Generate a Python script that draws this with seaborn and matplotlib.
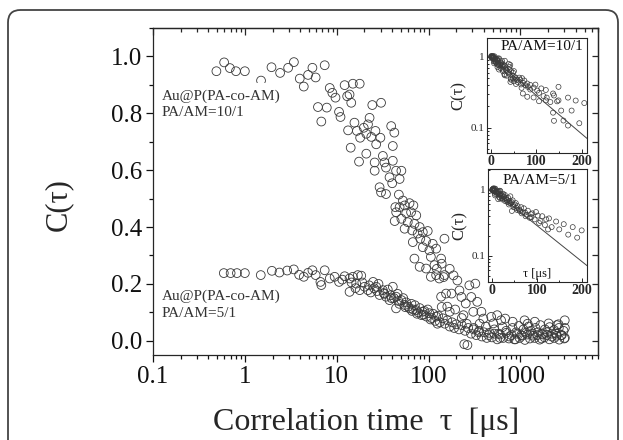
import numpy as np
import pandas as pd
import matplotlib.pyplot as plt
import seaborn as sns
from matplotlib.patches import FancyBboxPatch
from matplotlib.ticker import LogLocator, MultipleLocator, NullFormatter

# ---- data ----
# Au@P(PA-co-AM), PA/AM = 10/1
tau_10 = [0.49, 0.595, 0.687, 0.80, 1.0, 1.5, 1.95, 2.42, 2.96, 3.42,
          3.96, 4.38, 4.88, 5.44, 5.9, 6.25, 6.8, 7.4, 7.8, 8.4,
          8.96, 9.7, 10.6, 11.0, 12.2, 13.0, 13.3, 13.8, 14.2, 14.4,
          15.0, 15.6, 16.6, 17.5, 17.8, 18.0, 19.7, 21.0, 21.0, 21.9,
          22.8, 23.8, 24.4, 25.9, 25.9, 26.4, 26.9, 29.3, 29.9, 30.4,
          30.4, 31.8, 33.1, 34.4, 34.4, 37.6, 39.2, 40.2, 40.8, 40.8,
          42.4, 42.8, 43.5, 44.3, 44.4, 47.5, 48.4, 48.4, 50.6, 50.6,
          52.6, 54.9, 54.9, 57.1, 59.4, 62.1, 64.5, 66.3, 67.4, 68.4,
          70.2, 70.2, 73.5, 76.1, 80, 80, 81.3, 86.6, 86.6, 94,
          94, 98, 102, 106, 106, 111, 116, 121, 121, 123,
          131, 137, 137, 139, 139, 146, 149, 149, 155, 170,
          170, 178, 187, 206, 217, 228, 240, 254, 278, 292,
          307, 323, 339, 376, 395, 481, 506, 559, 616, 683,
          824, 1110, 1435, 2030, 2490, 3040, 310, 350, 420, 450,
          520, 580, 640, 700, 760, 820, 900, 960, 1020, 1080,
          1150, 1230, 1300, 1380, 1460, 1550, 1650, 1750, 1850, 1960,
          2080, 2200, 2330, 2470, 2620, 2780, 2950, 3050, 265, 360,
          600, 880, 1200, 1700, 2600, 3050, 160, 195, 230, 260]
c_10 = [0.948, 0.979, 0.959, 0.948, 0.948, 0.915, 0.962, 0.942, 0.960, 0.980,
        0.922, 0.894, 0.935, 0.960, 0.926, 0.822, 0.771, 0.969, 0.820, 0.889,
        0.872, 0.855, 0.805, 0.787, 0.899, 0.860, 0.740, 0.866, 0.679, 0.837,
        0.904, 0.767, 0.738, 0.630, 0.904, 0.714, 0.749, 0.658, 0.728, 0.761,
        0.784, 0.717, 0.829, 0.627, 0.598, 0.738, 0.691, 0.540, 0.714, 0.837,
        0.522, 0.650, 0.627, 0.609, 0.516, 0.575, 0.755, 0.554, 0.685, 0.633,
        0.732, 0.421, 0.470, 0.598, 0.452, 0.514, 0.569, 0.470, 0.598, 0.429,
        0.493, 0.476, 0.394, 0.449, 0.417, 0.484, 0.452, 0.388, 0.347, 0.476,
        0.411, 0.289, 0.441, 0.377, 0.400, 0.260, 0.359, 0.382, 0.329, 0.351,
        0.254, 0.386, 0.318, 0.295, 0.225, 0.341, 0.266, 0.324, 0.231, 0.253,
        0.219, 0.289, 0.155, 0.271, 0.119, 0.224, 0.359, 0.231, 0.166, 0.253,
        0.102, 0.166, 0.230, 0.212, 0.177, 0.154, 0.090, 0.131, 0.195, 0.154,
        0.102, 0.201, 0.137, 0.102, 0.078, 0.084, 0.061, 0.090, 0.072, 0.078,
        0.067, 0.072, 0.067, 0.061, 0.055, 0.072, 0.045, 0.030, 0.050, 0.020,
        0.040, 0.025, 0.048, 0.035, 0.015, 0.045, 0.030, 0.052, 0.020, 0.040,
        0.028, 0.050, 0.035, 0.018, 0.045, 0.030, 0.055, 0.022, 0.040, 0.030,
        0.048, 0.015, 0.038, 0.025, 0.045, 0.020, 0.035, 0.010, -0.015, 0.060,
        0.010, 0.005, 0.060, 0.008, 0.058, 0.045, 0.120, 0.110, 0.080, 0.060]

# Au@P(PA-co-AM), PA/AM = 5/1
tau_5 = [0.59, 0.70, 0.82, 1.0, 1.49, 1.97, 2.38, 2.89, 3.41, 3.9,
         4.38, 4.88, 5.44, 5.9, 6.65, 6.8, 7.4, 8.4, 9.5, 10.6,
         11.5, 12.2, 13.8, 13.8, 14.5, 15.0, 16.0, 16.3, 17.0, 17.8,
         18.5, 19.0, 20.1, 21.9, 22.5, 23.5, 24.9, 26.9, 27.5, 28.5,
         29.3, 31.8, 33.0, 34.4, 36.0, 37.6, 38.5, 40.8, 42.0, 44.3,
         44.3, 46.0, 48.0, 50.6, 53.0, 54.9, 57.0, 60.0, 62.1, 65.0,
         68.0, 71.0, 73.5, 77.0, 80.0, 84.0, 86.6, 90.0, 95.0, 98.0,
         102, 108, 112, 118, 121, 127, 133, 143, 150, 160,
         170, 180, 190, 200, 215, 230, 245, 250, 270, 290,
         310, 330, 355, 380, 400, 430, 460, 490, 520, 560,
         600, 650, 700, 750, 800, 860, 920, 980, 1050, 1120,
         1190, 1270, 1350, 1430, 1520, 1620, 1720, 1830, 1950, 2070,
         2200, 2340, 2490, 2650, 2820, 3000, 25.5, 32.5, 39.5, 47.0,
         56.0, 66.0, 75.0, 88.0, 105, 125]
c_5 = [0.238, 0.238, 0.238, 0.238, 0.231, 0.246, 0.240, 0.247, 0.251, 0.232,
       0.225, 0.239, 0.248, 0.231, 0.207, 0.196, 0.248, 0.219, 0.225, 0.207,
       0.215, 0.227, 0.219, 0.172, 0.205, 0.225, 0.185, 0.201, 0.231, 0.178,
       0.229, 0.205, 0.190, 0.178, 0.195, 0.170, 0.207, 0.190, 0.175, 0.200,
       0.161, 0.178, 0.165, 0.155, 0.180, 0.143, 0.160, 0.190, 0.150, 0.155,
       0.114, 0.165, 0.130, 0.143, 0.150, 0.126, 0.135, 0.120, 0.114, 0.130,
       0.110, 0.125, 0.108, 0.100, 0.115, 0.090, 0.102, 0.105, 0.085, 0.110,
       0.097, 0.080, 0.095, 0.070, 0.085, 0.088, 0.065, 0.079, 0.060, 0.072,
       0.050, 0.065, 0.045, 0.058, 0.040, 0.055, -0.012, 0.035, 0.045, 0.025,
       0.040, 0.020, 0.035, 0.015, 0.030, 0.010, 0.028, 0.012, 0.025, 0.005,
       0.022, 0.010, 0.028, 0.008, 0.020, 0.005, 0.025, 0.010, 0.018, 0.003,
       0.022, 0.008, 0.025, 0.010, 0.020, 0.004, 0.025, 0.012, 0.020, 0.005,
       0.025, 0.010, 0.018, 0.004, 0.020, 0.008, 0.185, 0.168, 0.150, 0.140,
       0.118, 0.105, 0.095, 0.092, 0.075, 0.060]

# plateau values used to normalise the insets, and fitted decay times (us)
c0_10 = 0.95
c0_5 = 0.24
tau_fit_10 = 80
tau_fit_5 = 80

assert len(tau_10) == len(c_10) and len(tau_5) == len(c_5)

sns.set_theme(style="ticks")
plt.rcParams["font.family"] = ["Liberation Serif", "DejaVu Serif"]
plt.rcParams["axes.linewidth"] = 0.9
plt.rcParams["text.color"] = "#111111"

ink = "#3a3a3a"

fig = plt.figure(figsize=(6.23, 4.40), dpi=100)

# rounded frame around the whole panel
frame = FancyBboxPatch((8 / 623, -0.05), (618 - 8) / 623, 1 - 10 / 440 + 0.05,
                       boxstyle="round,pad=0,rounding_size=0.02",
                       mutation_aspect=623 / 440, transform=fig.transFigure,
                       fill=False, ec="#444444", lw=1.3)
fig.add_artist(frame)

ax = fig.add_axes([0.2456, 0.1932, 0.7143, 0.7432])

df10 = pd.DataFrame({"tau": tau_10, "C": c_10})
df5 = pd.DataFrame({"tau": tau_5, "C": c_5})

for df in (df10, df5):
    sns.scatterplot(data=df, x="tau", y="C", ax=ax, s=40, color=ink,
                    linewidth=0.6, legend=False, zorder=3)
for coll in ax.collections:
    coll.set_facecolor("none")
    coll.set_edgecolor(ink)

ax.set_xscale("log")
ax.set_xlim(0.1, 7000)
ax.set_ylim(-0.05, 1.1)
major_x = [0.1, 1, 10, 100, 1000]
ax.set_xticks(major_x)
ax.set_xticklabels(["0.1", "1", "10", "100", "1000"])
ax.xaxis.set_minor_locator(LogLocator(base=10, subs=np.arange(2, 10) * 1.0, numticks=20))
ax.xaxis.set_minor_formatter(NullFormatter())
major_y = np.arange(0, 1.01, 0.2)
ax.set_yticks(major_y)
ax.set_yticklabels([f"{v:.1f}" for v in major_y])
ax.yaxis.set_minor_locator(MultipleLocator(0.1))
ax.tick_params(which="both", direction="out", top=False, right=False,
               labelsize=18, width=0.9, colors="#111111", pad=3)
ax.tick_params(which="major", length=5)
ax.tick_params(which="minor", length=3)

# mirrored ticks pointing inwards on top and right
top = ax.secondary_xaxis("top")
top.set_xticks(major_x)
top.xaxis.set_minor_locator(LogLocator(base=10, subs=np.arange(2, 10) * 1.0, numticks=20))
top.xaxis.set_major_formatter(NullFormatter())
top.xaxis.set_minor_formatter(NullFormatter())
top.tick_params(which="both", direction="in", width=0.9)
top.tick_params(which="major", length=5)
top.tick_params(which="minor", length=3)
right = ax.secondary_yaxis("right")
right.set_yticks(major_y)
right.yaxis.set_minor_locator(MultipleLocator(0.1))
right.yaxis.set_major_formatter(NullFormatter())
right.tick_params(which="both", direction="in", width=0.9, length=4)

ax.set_xlabel("Correlation time  \u03c4  [\u03bcs]", fontsize=23)
ax.xaxis.set_label_coords(0.48, -0.162)
ax.set_ylabel("C(\u03c4)", fontsize=22)
ax.yaxis.set_label_coords(-0.18, 0.46)

txt_kw = dict(transform=ax.transAxes, fontsize=11, color="#333333", ha="left",
              va="baseline", zorder=5)
ax.text(0.02, 0.780, "Au@P(PA-co-AM)",
        bbox=dict(fc="white", ec="none", pad=5), **txt_kw)
ax.text(0.02, 0.732, "PA/AM=10/1", **txt_kw)
ax.text(0.02, 0.168, "Au@P(PA-co-AM)", **txt_kw)
ax.text(0.02, 0.117, "PA/AM=5/1", **txt_kw)

# ---- insets: same data on a linear time axis, normalised ----
insets = [
    (fig.add_axes([0.7817, 0.6523, 0.1605, 0.2614]), df10, c0_10, tau_fit_10,
     "PA/AM=10/1", (0.55, 0.93), (0.044, 1.85)),
    (fig.add_axes([0.7833, 0.3591, 0.1590, 0.2568]), df5, c0_5, tau_fit_5,
     "PA/AM=5/1", (0.53, 0.90), (0.040, 2.05)),
]
for ins, df, c0, tfit, name, pos, ylim in insets:
    sub = df[(df["tau"] <= 212)].copy()
    sub["Cn"] = sub["C"] / c0
    sub = sub[sub["Cn"] > 0]
    sns.scatterplot(data=sub, x="tau", y="Cn", ax=ins, s=13, color=ink,
                    linewidth=0.5, legend=False, zorder=3)
    ins.collections[-1].set_facecolor("none")
    ins.collections[-1].set_edgecolor(ink)
    t = np.linspace(0, 212, 50)
    fit = pd.DataFrame({"t": t, "f": np.exp(-t / tfit)})
    sns.lineplot(data=fit, x="t", y="f", ax=ins, color="#444444", lw=0.7,
                 legend=False, zorder=2)
    ins.set_yscale("log")
    ins.set_xlim(-9, 212)
    ins.set_ylim(*ylim)
    ins.set_xticks([0, 100, 200])
    ins.set_xticklabels(["0", "100", "200"], fontsize=10, fontweight="bold")
    ins.xaxis.set_minor_locator(MultipleLocator(50))
    ins.set_yticks([0.1, 1])
    ins.set_yticklabels(["0.1", "1"], fontsize=8)
    ins.yaxis.set_minor_locator(LogLocator(base=10, subs=np.arange(2, 10) * 1.0, numticks=20))
    ins.yaxis.set_minor_formatter(NullFormatter())
    ins.tick_params(which="both", direction="in", width=0.7, pad=1.5)
    ins.tick_params(which="major", length=3)
    ins.tick_params(which="minor", length=1.5)
    for sp in ins.spines.values():
        sp.set_linewidth(0.8)
    ins.set_xlabel("")
    ins.set_ylabel("C(\u03c4)", fontsize=12)
    ins.yaxis.set_label_coords(-0.2, 0.5)
    ins.text(pos[0], pos[1], name, transform=ins.transAxes, ha="center",
             va="center", fontsize=11)

insets[1][0].text(0.5, 0.07, "\u03c4 [\u03bcs]", transform=insets[1][0].transAxes,
                  ha="center", va="center", fontsize=9)

fig.savefig("out.png", dpi=100)
